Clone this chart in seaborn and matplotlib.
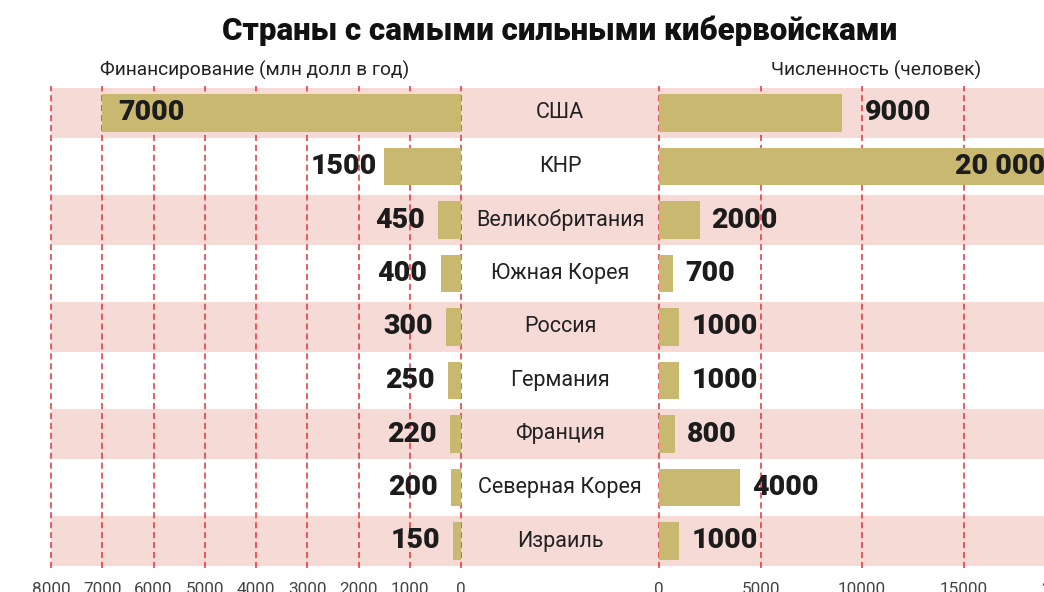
import matplotlib
matplotlib.use('Agg')
import matplotlib.pyplot as plt
import seaborn as sns
import pandas as pd

countries = ['США', 'КНР', 'Великобритания', 'Южная Корея', 'Россия',
             'Германия', 'Франция', 'Северная Корея', 'Израиль']
funding = [7000, 1500, 450, 400, 300, 250, 220, 200, 150]
personnel = [9000, 20000, 2000, 700, 1000, 1000, 800, 4000, 1000]
funding_ticks = [8000, 7000, 6000, 5000, 4000, 3000, 2000, 1000, 0]
personnel_ticks = [0, 5000, 10000, 15000, 20000]

title = 'Страны с самыми сильными кибервойсками'
left_header = 'Финансирование (млн долл в год)'
right_header = 'Численность (человек)'

sns.set_theme(style='white')
plt.rcParams['font.family'] = ['Roboto', 'DejaVu Sans']

df = pd.DataFrame({'country': countries, 'funding': funding, 'personnel': personnel})

BAR = '#c9b870'
PINK = '#f5dad6'
GRID = '#e8303a'
TXT = '#1c1c1c'

W, H = 1044, 592
fig = plt.figure(figsize=(W / 100, H / 100), dpi=100)
fig.patch.set_facecolor('white')

top_px, bot_px = 86.25, 567.75
n = len(countries)


def rect(x0, x1):
    return [x0 / W, (H - bot_px) / H, (x1 - x0) / W, (bot_px - top_px) / H]


# background bands + country names
bg = fig.add_axes(rect(51, 1044))
bg.set_xlim(51, 1044)
bg.set_ylim(n - 0.5, -0.5)
for i in range(0, n, 2):
    bg.axhspan(i - 0.46, i + 0.46, color=PINK, lw=0)
for i, c in enumerate(countries):
    bg.text(560, i, c, ha='center', va='center', fontsize=15.5, color='#222222')
bg.axis('off')


def style(ax, ticks):
    ax.patch.set_alpha(0)
    ax.set_xticks(ticks)
    ax.set_xticklabels([str(t) for t in ticks])
    ax.set_yticks([])
    ax.set_ylabel('')
    ax.set_xlabel('')
    ax.set_ylim(n - 0.5, -0.5)
    ax.grid(axis='x', color=GRID, ls=(0, (4, 2.5)), lw=1.1)
    ax.grid(axis='y', visible=False)
    ax.set_axisbelow(True)
    for s in ax.spines.values():
        s.set_visible(False)
    ax.tick_params(axis='x', length=0, pad=10, labelsize=12.3, labelcolor='#444444')
    for gl in ax.get_xgridlines():
        gl.set_clip_on(False)


VS = 20.5

# left: funding
axL = fig.add_axes(rect(51, 461))
sns.barplot(data=df, x='funding', y='country', orient='h', color=BAR,
            saturation=1, width=0.71, linewidth=0, ax=axL)
axL.set_xlim(8000, 0)
style(axL, funding_ticks)
for i, v in enumerate(funding):
    if v >= 5000:
        axL.annotate(str(v), xy=(v, i), xytext=(16, 0), textcoords='offset pixels',
                     ha='left', va='center', fontsize=VS, fontweight='black', color=TXT)
    else:
        pad = 7 if v >= 1000 else 13
        axL.annotate(str(v), xy=(v, i), xytext=(-pad, 0), textcoords='offset pixels',
                     ha='right', va='center', fontsize=VS, fontweight='black', color=TXT)

# right: personnel
axR = fig.add_axes(rect(659, 1065))
sns.barplot(data=df, x='personnel', y='country', orient='h', color=BAR,
            saturation=1, width=0.71, linewidth=0, ax=axR)
axR.set_xlim(0, 20000)
style(axR, personnel_ticks)
for i, v in enumerate(personnel):
    lab = f'{v:,}'.replace(',', ' ') if v >= 10000 else str(v)
    if v >= 15000:
        axR.annotate(lab, xy=(v, i), xytext=(-20, 0), textcoords='offset pixels',
                     ha='right', va='center', fontsize=VS, fontweight='black', color=TXT)
    else:
        pad = 23 if v >= 5000 else 12
        axR.annotate(lab, xy=(v, i), xytext=(pad, 0), textcoords='offset pixels',
                     ha='left', va='center', fontsize=VS, fontweight='black', color=TXT)

fig.text(560 / W, 1 - 31 / H, title, ha='center', va='center', fontsize=22.5,
         fontweight='black', color='#111111')
fig.text(255 / W, 1 - 70 / H, left_header, ha='center', va='center', fontsize=13.8,
         color='#222222')
fig.text(876 / W, 1 - 70 / H, right_header, ha='center', va='center', fontsize=13.8,
         color='#222222')

fig.savefig('out.png', dpi=100, facecolor='white')
